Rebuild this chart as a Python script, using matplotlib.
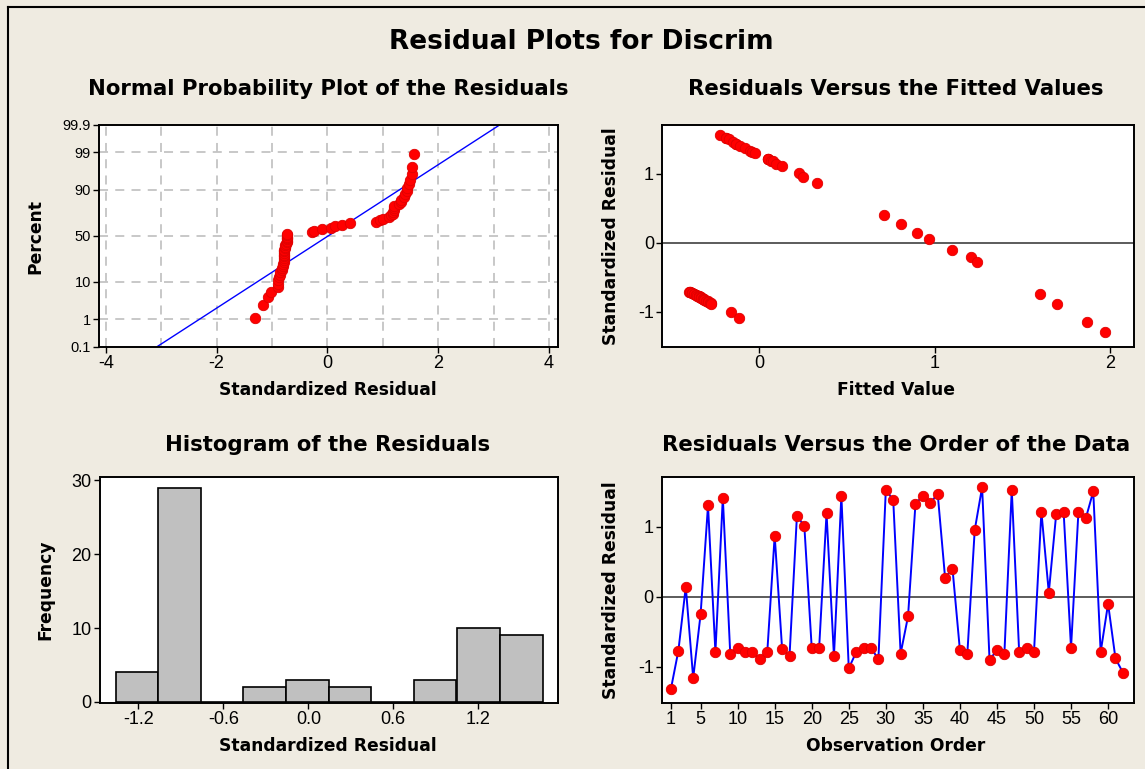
import matplotlib
matplotlib.use("Agg")
import matplotlib.pyplot as plt
from matplotlib.lines import Line2D
import numpy as np
from statistics import NormalDist

# ---------------- data ----------------
obs_order = list(range(1, 63))
std_resid = [-1.31, -0.77, 0.14, -1.16, -0.25, 1.30, -0.79, 1.41, -0.81, -0.73,
             -0.79, -0.79, -0.89, -0.79, 0.87, -0.74, -0.85, 1.15, 1.01, -0.73,
             -0.73, 1.19, -0.85, 1.44, -1.02, -0.79, -0.73, -0.73, -0.89, 1.52,
             1.38, -0.81, -0.28, 1.32, 1.44, 1.33, 1.47, 0.27, 0.40, -0.76,
             -0.82, 0.95, 1.56, -0.90, -0.76, -0.82, 1.52, -0.79, -0.73, -0.79,
             1.21, 0.06, 1.18, 1.21, -0.73, 1.21, 1.12, 1.50, -0.79, -0.10,
             -0.88, -1.08]

fitted_values = [-0.22, -0.19, -0.19, -0.17, -0.15, -0.13, -0.13, -0.11, -0.08, -0.05,
                 -0.04, -0.02, 0.05, 0.05, 0.05, 0.07, 0.08, 0.10, 0.13,
                 0.23, 0.25, 0.33,
                 0.71, 0.81, 0.90, 0.97, 1.10, 1.21, 1.24,
                 1.60, 1.70, 1.87, 1.97,
                 -0.40, -0.39, -0.39, -0.38, -0.38, -0.37, -0.37, -0.36, -0.36, -0.35,
                 -0.34, -0.34, -0.34, -0.33, -0.33, -0.33, -0.32, -0.32, -0.32, -0.31,
                 -0.31, -0.30, -0.29, -0.29, -0.28, -0.27, -0.27,
                 -0.16, -0.115]
fitted_resid = [1.56, 1.52, 1.52, 1.50, 1.47, 1.44, 1.44, 1.41, 1.38, 1.33,
                1.32, 1.30, 1.21, 1.21, 1.21, 1.19, 1.18, 1.15, 1.12,
                1.01, 0.95, 0.87,
                0.41, 0.27, 0.14, 0.06, -0.10, -0.21, -0.285,
                -0.74, -0.89, -1.15, -1.30,
                -0.71, -0.72, -0.72, -0.73, -0.73, -0.74, -0.74, -0.76, -0.76, -0.77,
                -0.78, -0.78, -0.79, -0.79, -0.80, -0.80, -0.81, -0.81, -0.82, -0.82,
                -0.83, -0.84, -0.85, -0.86, -0.87, -0.88, -0.89,
                -1.01, -1.10]

hist_mids = [-1.21, -0.91, -0.605, -0.31, -0.005, 0.295, 0.595, 0.895, 1.2, 1.505]
hist_counts = [4, 29, 0, 2, 3, 2, 0, 3, 10, 9]

prob_ticks = [0.1, 1, 10, 50, 90, 99, 99.9]
prob_tick_labels = ["0.1", "1", "10", "50", "90", "99", "99.9"]
prob_grid = [1, 10, 50, 90, 99]

# ---------------- style ----------------
W, H = 1145, 769
BG = "#EFEBE1"
TICKFONT = "Liberation Sans"
BOLDFONT = "DejaVu Sans"
TITLE_FS = 15.3
LABEL_FS = 12.3
TICK_FS = 13

plt.rcParams["font.family"] = ["DejaVu Sans"]
plt.rcParams["axes.unicode_minus"] = False
fig = plt.figure(figsize=(W / 100, H / 100), dpi=100, facecolor=BG)

def rect(l, t, r, b):
    return [l / W, 1 - b / H, (r - l) / W, (b - t) / H]

def style_axes(ax, fs=TICK_FS):
    ax.set_facecolor("white")
    for s in ax.spines.values():
        s.set_linewidth(1.4)
        s.set_color("black")
    ax.tick_params(direction="out", length=4, width=1.0, colors="black",
                   labelsize=fs, pad=2)
    for lab in ax.get_xticklabels() + ax.get_yticklabels():
        lab.set_fontfamily(TICKFONT)

def ftext(x, y, s, **kw):
    fig.text(x / W, 1 - y / H, s, ha="center", va="center", **kw)

# border
fig.add_artist(Line2D([8 / W, 8 / W], [0, 1 - 7 / H], color="black", lw=1.5,
                      transform=fig.transFigure))
fig.add_artist(Line2D([8 / W, 1], [1 - 7 / H, 1 - 7 / H], color="black", lw=1.5,
                      transform=fig.transFigure))

ftext(581, 42, "Residual Plots for Discrim", fontsize=19, fontweight="bold",
      family=BOLDFONT)

nd = NormalDist()
RED = "#FF0000"
mk = dict(marker="o", markersize=7.5, markerfacecolor=RED, markeredgecolor="#E00000",
          markeredgewidth=0.6, linestyle="none")

# ---------------- normal probability plot ----------------
ax1 = fig.add_axes(rect(99.3, 125, 558.3, 346.7))
n = len(std_resid)
xs = np.sort(np.array(std_resid))
pp = (np.arange(1, n + 1) - 0.3) / (n + 0.4)
zs = np.array([nd.inv_cdf(p) for p in pp])
zlo, zhi = nd.inv_cdf(0.001), nd.inv_cdf(0.999)
for g in range(-4, 5):
    ax1.axvline(g, color="#C4C4C4", lw=1.3, ls=(0, (5, 4)), zorder=1)
for g in prob_grid:
    ax1.axhline(nd.inv_cdf(g / 100), color="#C4C4C4", lw=1.3, ls=(0, (5, 4)), zorder=1)
mu, sd = float(np.mean(std_resid)), float(np.std(std_resid, ddof=1))
zl = np.array([zlo, zhi])
ax1.plot(mu + sd * zl, zl, color="#0000FF", lw=1.0, zorder=2)
ax1.plot(xs, zs, zorder=3, **mk)
ax1.set_xlim(-4.12, 4.17)
ax1.set_ylim(zlo, zhi)
ax1.set_xticks(range(-4, 5, 2))
ax1.set_yticks([nd.inv_cdf(p / 100) for p in prob_ticks])
ax1.set_yticklabels(prob_tick_labels)
style_axes(ax1)
ax1.tick_params(axis="y", labelsize=10.5)

ftext(328, 89, "Normal Probability Plot of the Residuals", fontsize=TITLE_FS,
      fontweight="bold", family=BOLDFONT)
ftext(328, 390, "Standardized Residual", fontsize=LABEL_FS, fontweight="bold", family=BOLDFONT)
ftext(35, 236, "Percent", fontsize=LABEL_FS, fontweight="bold", family=BOLDFONT, rotation=90)

# ---------------- residuals vs fitted ----------------
ax2 = fig.add_axes(rect(662.3, 125, 1134, 346.7))
ax2.axhline(0, color="#404040", lw=1.2, zorder=1)
ax2.plot(fitted_values, fitted_resid, zorder=3, **mk)
ax2.set_xlim(-0.55, 2.136)
ax2.set_ylim(-1.51, 1.71)
ax2.set_xticks([0, 1, 2])
ax2.set_yticks([-1, 0, 1])
style_axes(ax2)
ftext(896, 89, "Residuals Versus the Fitted Values", fontsize=TITLE_FS,
      fontweight="bold", family=BOLDFONT)
ftext(896, 390, "Fitted Value", fontsize=LABEL_FS, fontweight="bold", family=BOLDFONT)
ftext(611, 236, "Standardized Residual", fontsize=LABEL_FS, fontweight="bold",
      family=BOLDFONT, rotation=90)

# ---------------- histogram ----------------
ax3 = fig.add_axes(rect(100, 476.7, 558, 702.7))
ax3.bar(hist_mids, hist_counts, width=0.3, color="#C0C0C0", edgecolor="black",
        linewidth=1.2, zorder=2)
ax3.set_xlim(-1.471, 1.763)
ax3.set_ylim(-0.1, 30.5)
ax3.set_xticks([-1.2, -0.6, 0.0, 0.6, 1.2])
ax3.set_xticklabels(["-1.2", "-0.6", "0.0", "0.6", "1.2"])
ax3.set_yticks([0, 10, 20, 30])
style_axes(ax3)
ftext(328, 445, "Histogram of the Residuals", fontsize=TITLE_FS, fontweight="bold",
      family=BOLDFONT)
ftext(328, 746, "Standardized Residual", fontsize=LABEL_FS, fontweight="bold", family=BOLDFONT)
ftext(45, 590, "Frequency", fontsize=LABEL_FS, fontweight="bold", family=BOLDFONT, rotation=90)

# ---------------- residuals vs order ----------------
ax4 = fig.add_axes(rect(662, 476.7, 1134, 702.7))
ax4.axhline(0, color="#404040", lw=1.2, zorder=1)
ax4.plot(obs_order, std_resid, color="#0000FF", lw=1.4, zorder=2)
ax4.plot(obs_order, std_resid, zorder=3, **mk)
ax4.set_xlim(-0.21, 63.5)
ax4.set_ylim(-1.51, 1.71)
ax4.set_xticks([1] + list(range(5, 61, 5)))
ax4.set_yticks([-1, 0, 1])
style_axes(ax4)
ftext(896, 445, "Residuals Versus the Order of the Data", fontsize=TITLE_FS,
      fontweight="bold", family=BOLDFONT)
ftext(896, 746, "Observation Order", fontsize=LABEL_FS, fontweight="bold", family=BOLDFONT)
ftext(611, 590, "Standardized Residual", fontsize=LABEL_FS, fontweight="bold",
      family=BOLDFONT, rotation=90)

fig.savefig("out.png", dpi=100, facecolor=BG)
